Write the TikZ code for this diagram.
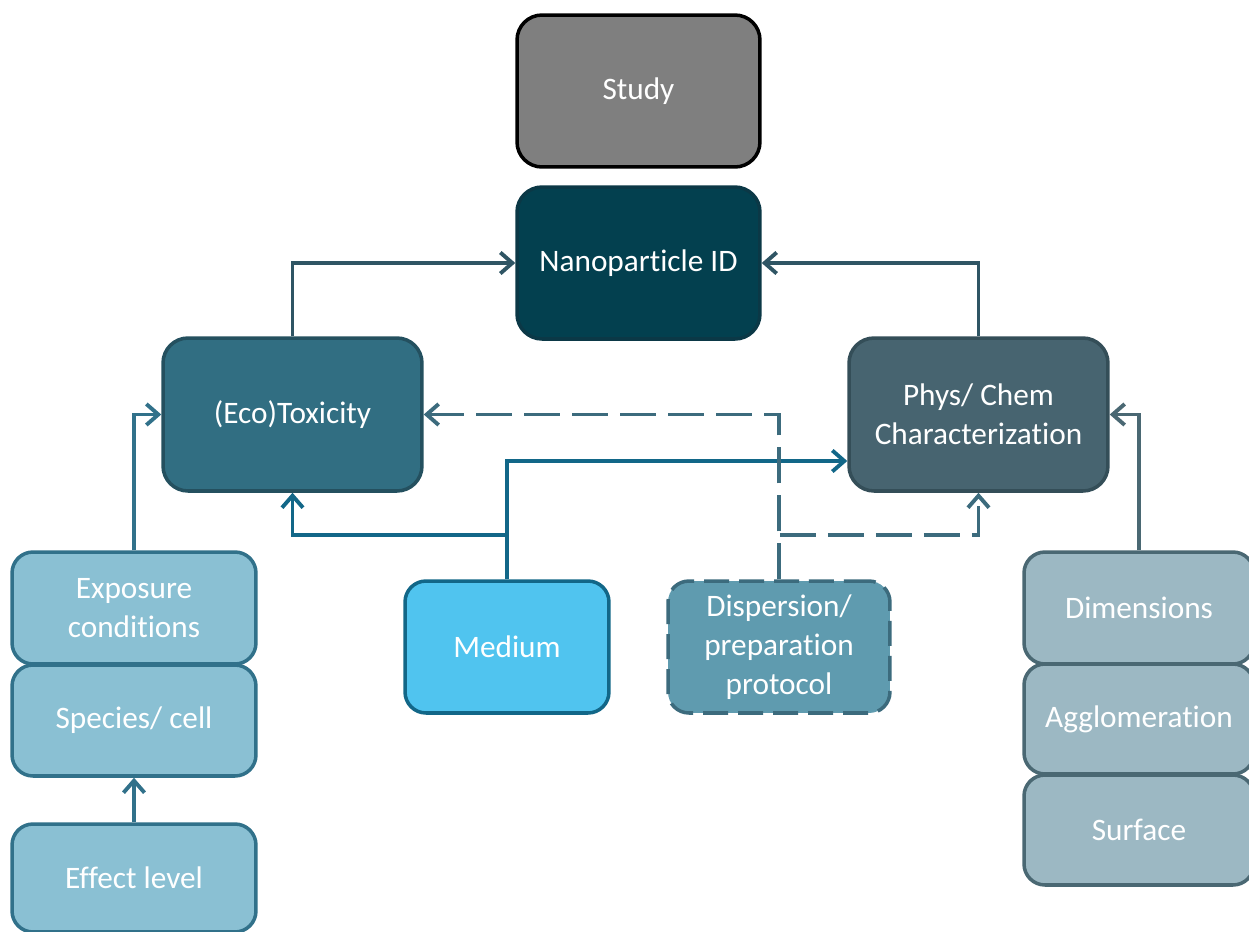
\documentclass[tikz,border=0pt]{standalone}
\usepackage{fontspec}
\setmainfont{Carlito}[Ligatures=NoCommon]
\usetikzlibrary{arrows.meta,calc}
\definecolor{studyfill}{HTML}{7F7F7F}
\definecolor{npfill}{HTML}{03404F}
\definecolor{npdraw}{HTML}{0B3846}
\definecolor{ecofill}{HTML}{316E82}
\definecolor{ecodraw}{HTML}{24505F}
\definecolor{physfill}{HTML}{476470}
\definecolor{physdraw}{HTML}{344E58}
\definecolor{expfill}{HTML}{8AC0D3}
\definecolor{expdraw}{HTML}{31718A}
\definecolor{medfill}{HTML}{50C4EF}
\definecolor{meddraw}{HTML}{126788}
\definecolor{dispfill}{HTML}{5F9BAF}
\definecolor{dispdraw}{HTML}{3C6B7D}
\definecolor{dimfill}{HTML}{9CB8C3}
\definecolor{dimdraw}{HTML}{4A6873}
\definecolor{npconn}{HTML}{2F5564}
\begin{document}
\begin{tikzpicture}[x=0.02cm,y=-0.02cm,
  box/.style={rectangle, rounded corners=0.42cm, line width=2pt, text=white,
    align=center, inner sep=0pt, font=\fontsize{17.8}{22}\selectfont},
  bigbox/.style={box, rounded corners=0.5cm},
  conn/.style={line width=2.2pt, -{Straight Barb[length=2.4mm,width=4.2mm,line width=2.2pt]}},
  dashc/.style={conn, draw=dispdraw, dash pattern=on 0.72cm off 0.24cm},
]
\clip (0,0) rectangle (1249,931);
\fill[white] (0,0) rectangle (1249,931);

\node[bigbox, fill=studyfill, draw=black, minimum width=4.86cm, minimum height=3.04cm] (study) at (638.5,91) {Study};
\node[bigbox, fill=npfill, draw=npdraw, minimum width=4.86cm, minimum height=3.04cm] (np) at (638.5,263) {Nanoparticle ID};
\node[bigbox, fill=ecofill, draw=ecodraw, minimum width=5.18cm, minimum height=3.06cm] (eco) at (292.5,414.5) {(Eco)Toxicity};
\node[bigbox, fill=physfill, draw=physdraw, minimum width=5.18cm, minimum height=3.06cm] (phys) at (978.5,414.5) {Phys/ Chem\\Characterization};

\node[box, fill=expfill, draw=expdraw, minimum width=4.88cm, minimum height=2.24cm] (expo) at (134,608) {Exposure\\conditions};
\node[box, fill=expfill, draw=expdraw, minimum width=4.88cm, minimum height=2.22cm] (species) at (134,720.5) {Species/ cell};
\node[box, fill=expfill, draw=expdraw, minimum width=4.88cm, minimum height=2.16cm] (effect) at (134,878) {Effect level};

\node[box, fill=medfill, draw=meddraw, minimum width=4.08cm, minimum height=2.64cm] (medium) at (507,647) {Medium};
\node[box, fill=dispfill, draw=dispdraw, dash pattern=on 0.5cm off 0.2cm, minimum width=4.44cm, minimum height=2.64cm] (disp) at (779,647) {Dispersion/\\preparation\\protocol};

\node[box, fill=dimfill, draw=dimdraw, minimum width=4.6cm, minimum height=2.24cm] (dim) at (1139,608) {Dimensions};
\node[box, fill=dimfill, draw=dimdraw, minimum width=4.6cm, minimum height=2.2cm] (aggl) at (1139,719) {Agglomeration};
\node[box, fill=dimfill, draw=dimdraw, minimum width=4.6cm, minimum height=2.2cm] (surf) at (1139,830) {Surface};

% connectors
\draw[conn, draw=npconn] (eco.north) |- (np.west);
\draw[conn, draw=npconn] (phys.north) |- (np.east);
\draw[conn, draw=expdraw] (expo.north) |- (eco.west);
\draw[conn, draw=expdraw] (effect.north) -- (species.south);
\draw[conn, draw=dimdraw] (dim.north) |- (phys.east);

\coordinate (mj) at (507,535);
\draw[conn, draw=meddraw] (medium.north) -- (mj) -| (eco.south);
\draw[conn, draw=meddraw] (mj) |- ([yshift=-0.93cm]phys.west);

\coordinate (dj) at (780,535);
\draw[dashc] (disp.north) |- (eco.east);
\draw[dashc] (dj) -| (phys.south);
\end{tikzpicture}
\end{document}
